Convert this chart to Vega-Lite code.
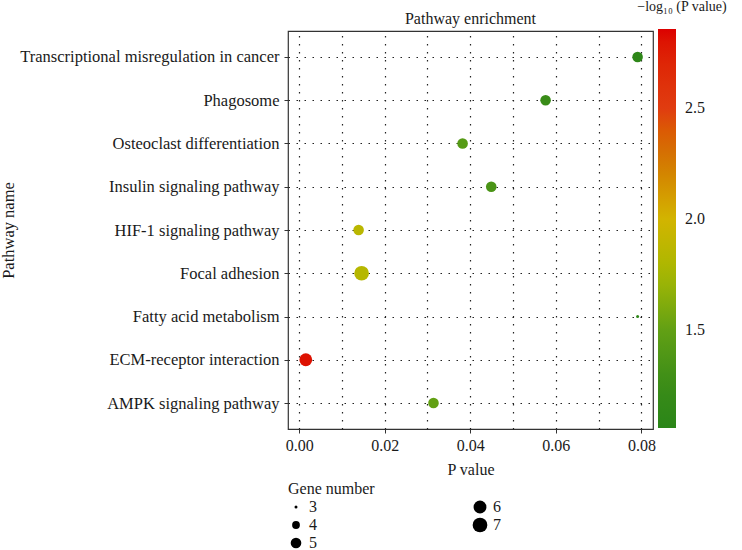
{
  "$schema": "https://vega.github.io/schema/vega-lite/v6.json",
  "width": 365,
  "height": 398,
  "autosize": {"type": "none"},
  "padding": {"left": 288, "top": 31, "right": 89, "bottom": 121},
  "title": {"text": "Pathway enrichment", "font": "Liberation Serif", "fontSize": 16, "fontWeight": "normal", "color": "#1a1a1a", "offset": 6, "anchor": "middle", "dy": 33},
  "config": {
    "font": "Liberation Serif",
    "view": {"stroke": "#333333", "strokeWidth": 1.2},
    "background": "white"
  },
  "data": {
    "values": [
      {"pathway": "Transcriptional misregulation in cancer", "p": 0.0791, "logp": 1.10, "genes": 5},
      {"pathway": "Phagosome", "p": 0.0576, "logp": 1.24, "genes": 5},
      {"pathway": "Osteoclast differentiation", "p": 0.0382, "logp": 1.42, "genes": 5},
      {"pathway": "Insulin signaling pathway", "p": 0.0449, "logp": 1.35, "genes": 5},
      {"pathway": "HIF-1 signaling pathway", "p": 0.0139, "logp": 1.86, "genes": 5},
      {"pathway": "Focal adhesion", "p": 0.0146, "logp": 1.84, "genes": 7},
      {"pathway": "Fatty acid metabolism", "p": 0.0791, "logp": 1.10, "genes": 3},
      {"pathway": "ECM-receptor interaction", "p": 0.00156, "logp": 2.81, "genes": 6},
      {"pathway": "AMPK signaling pathway", "p": 0.0314, "logp": 1.50, "genes": 5}
    ]
  },
  "mark": {"type": "circle", "opacity": 1, "strokeWidth": 0},
  "encoding": {
    "x": {
      "field": "p",
      "type": "quantitative",
      "scale": {"domain": [-0.0026, 0.0827], "nice": false, "zero": false},
      "axis": {
        "values": [0, 0.01, 0.02, 0.03, 0.04, 0.05, 0.06, 0.07, 0.08],
        "format": ".2f",
        "labelExpr": "round(datum.value * 100) % 2 === 0 ? datum.label : ''",
        "grid": true,
        "gridDash": [1.5, 6.5],
        "gridColor": "#222222",
        "gridWidth": 1.2,
        "gridOpacity": 1,
        "domain": false,
        "ticks": true,
        "tickSize": 4,
        "tickColor": "#333333",
        "tickOpacity": {"condition": {"test": "round(datum.value * 100) % 2 !== 0", "value": 0}, "value": 1},
        "labelFontSize": 16,
        "labelColor": "#1a1a1a",
        "labelPadding": 4,
        "title": "P value",
        "titleFontSize": 16,
        "titleFontWeight": "normal",
        "titleColor": "#1a1a1a",
        "titlePadding": 8
      }
    },
    "y": {
      "field": "pathway",
      "type": "nominal",
      "sort": [
        "Transcriptional misregulation in cancer",
        "Phagosome",
        "Osteoclast differentiation",
        "Insulin signaling pathway",
        "HIF-1 signaling pathway",
        "Focal adhesion",
        "Fatty acid metabolism",
        "ECM-receptor interaction",
        "AMPK signaling pathway"
      ],
      "scale": {"type": "point", "padding": 0.6},
      "axis": {
        "grid": true,
        "gridDash": [1.5, 6.5],
        "gridColor": "#222222",
        "gridWidth": 1.2,
        "domain": false,
        "tickSize": 4,
        "tickColor": "#333333",
        "labelFontSize": 16.5,
        "labelColor": "#1a1a1a",
        "labelPadding": 5,
        "labelLimit": 400,
        "title": "Pathway name",
        "titleFontSize": 16.5,
        "titleFontWeight": "normal",
        "titleColor": "#1a1a1a",
        "titleX": -272,
        "titleY": 199
      }
    },
    "color": {
      "field": "logp",
      "type": "quantitative",
      "scale": {
        "domain": [1.056, 1.25, 1.5, 1.75, 2.0, 2.25, 2.5, 2.858],
        "range": ["#2a8518", "#3a8c18", "#62a014", "#a6b806", "#d2b400", "#d27a08", "#e03c10", "#dc0000"]
      },
      "legend": {
        "orient": "none",
        "legendX": 349,
        "legendY": -31,
        "direction": "vertical",
        "title": "−log₁₀ (P value)",
        "titleFontSize": 14,
        "titleFontWeight": "normal",
        "titleColor": "#1a1a1a",
        "titleAnchor": "middle",
        "titleAlign": "center",
        "titlePadding": 15,
        "titleLimit": 300,
        "gradientLength": 399,
        "gradientThickness": 18,
        "gradientStrokeWidth": 0,
        "values": [1.5, 2.0, 2.5],
        "format": ".1f",
        "labelFontSize": 16,
        "labelColor": "#1a1a1a",
        "labelOffset": 9
      }
    },
    "size": {
      "field": "genes",
      "type": "quantitative",
      "scale": {"domain": [3, 7], "range": [9, 216], "zero": false},
      "legend": {
        "orient": "none",
        "legendX": 0,
        "legendY": 450,
        "title": "Gene number",
        "titleFontSize": 16,
        "titleFontWeight": "normal",
        "titleColor": "#1a1a1a",
        "titlePadding": 2,
        "values": [3, 4, 5, 6, 7],
        "columns": 2,
        "columnPadding": 155,
        "rowPadding": 2,
        "symbolType": "circle",
        "symbolFillColor": "black",
        "symbolStrokeWidth": 0,
        "symbolOpacity": 1,
        "labelFontSize": 16,
        "labelColor": "#1a1a1a",
        "labelOffset": 5
      }
    }
  }
}
